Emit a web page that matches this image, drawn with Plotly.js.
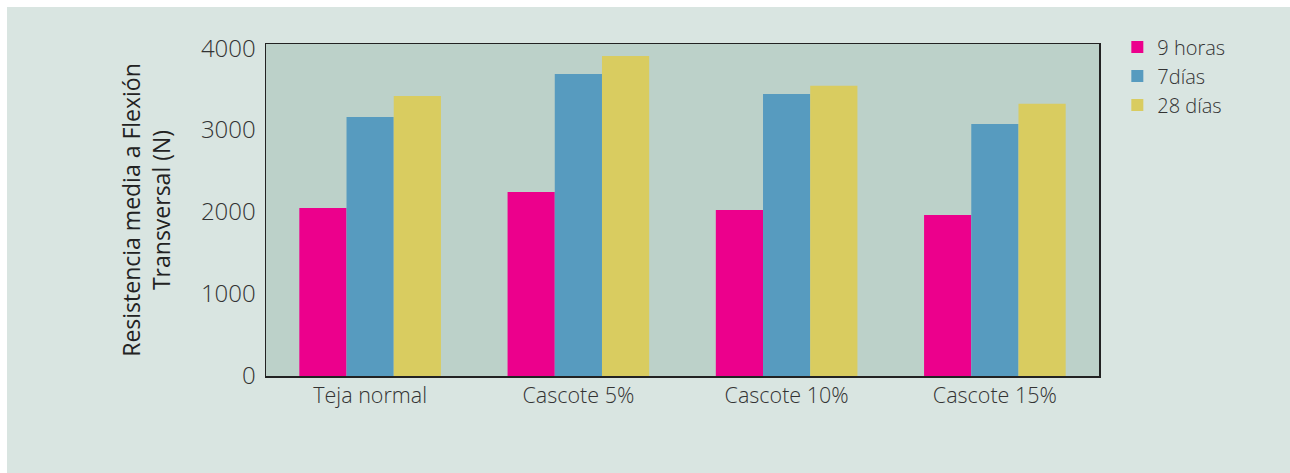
<!DOCTYPE html>
<html><head><meta charset="utf-8">
<script src="https://cdn.plot.ly/plotly-3.0.1.min.js"></script>
<style>
html,body{margin:0;padding:0;background:#ffffff;}
#chart{position:absolute;left:7px;top:7px;width:1283px;height:466px;}
</style></head>
<body><div id="chart"></div>
<script>
const categories = ["Teja normal", "Cascote 5%", "Cascote 10%", "Cascote 15%"];
const seriesNames = ["9 horas", "7días", "28 días"];
const horas9 = [2050, 2245, 2025, 1965];
const dias7 = [3160, 3685, 3440, 3075];
const dias28 = [3415, 3905, 3540, 3320];
const yTicks = [0, 1000, 2000, 3000, 4000];
const colors = ["#ec008c", "#579bbf", "#d9cc60"];

const font = "'Open Sans', 'Noto Sans', sans-serif";
const data = [horas9, dias7, dias28].map((vals, i) => ({
  type: "bar", x: categories, y: vals, name: seriesNames[i],
  marker: {color: colors[i], line: {width: 0}}
}));

const layout = {
  width: 1283, height: 466,
  paper_bgcolor: "#d9e5e1", plot_bgcolor: "#bcd1c9",
  margin: {l: 259, r: 191, t: 37, b: 97},
  barmode: "group", bargap: 0.32, bargroupgap: 0,
  font: {family: font, color: "#333333", size: 20, weight: 300},
  xaxis: {
    showline: true, linecolor: "#222222", linewidth: 1.5, mirror: true,
    ticks: "", showgrid: false, tickfont: {size: 21.5, color: "#333333", weight: 300},
    ticklabelstandoff: 0
  },
  yaxis: {
    range: [0, 4050], tickvals: yTicks, ticktext: yTicks.map(String),
    showline: true, linecolor: "#222222", linewidth: 1.5, mirror: true,
    showgrid: false, zeroline: false, ticks: "",
    tickfont: {size: 24, color: "#333333", weight: 300},
    ticklabelstandoff: 4,
    title: {text: "Resistencia media a Flexión<br>Transversal (N)", standoff: 24,
            font: {size: 23, color: "#222222", family: font, weight: 500}}
  },
  legend: {x: 1.022, xanchor: "left", y: 1.05, yanchor: "top",
           bgcolor: "rgba(0,0,0,0)", font: {size: 20, color: "#333333", weight: 300},
           tracegroupgap: 0, itemwidth: 30},
  showlegend: true
};
Plotly.newPlot("chart", data, layout, {displayModeBar: false, staticPlot: true});
</script></body></html>
